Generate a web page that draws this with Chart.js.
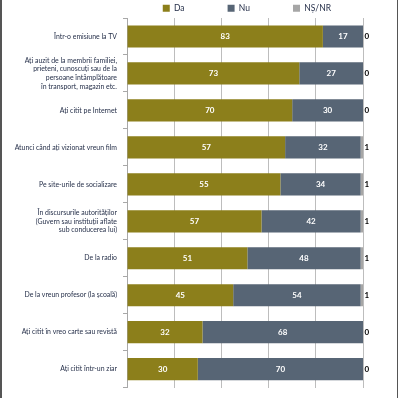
<!DOCTYPE html>
<html>
<head>
<meta charset="utf-8">
<script src="https://cdn.jsdelivr.net/npm/chart.js@4"></script>
<style>
html,body{margin:0;padding:0;background:#fff;}
#wrap{position:relative;width:398px;height:398px;}
#frame{position:absolute;left:0;top:0;width:398px;height:398px;box-sizing:border-box;border-left:2px solid #555;border-right:1px solid #555;pointer-events:none;}
canvas{position:absolute;left:0;top:0;}
</style>
</head>
<body>
<div id="wrap"><canvas id="c" width="398" height="398"></canvas><div id="frame"></div></div>
<script>
const categories = [
  ["Într-o emisiune la TV"],
  ["Ați auzit de la membrii familiei,","prieteni, cunoscuți sau de la","persoane întâmplătoare","în transport, magazin etc."],
  ["Ați citit pe Internet"],
  ["Atunci când ați vizionat vreun film"],
  ["Pe site-urile de socializare"],
  ["În discursurile autorităților","(Guvern sau instituții aflate","sub conducerea lui)"],
  ["De la radio"],
  ["De la vreun profesor (la școală)"],
  ["Ați citit în vreo carte sau revistă"],
  ["Ați citit într-un ziar"]
];
const seriesNames = ["Da", "Nu", "NȘ/NR"];
// bar lengths as drawn in the picture
const daValues = [83, 73, 70, 67, 65, 57, 51, 45, 32, 30];
const nuValues = [17, 27, 30, 32, 34, 42, 48, 54, 68, 70];
const nsValues = [0, 0, 0, 1, 1, 1, 1, 1, 0, 0];
// value labels as printed in the picture
const daLabels = ["83", "73", "70", "57", "55", "57", "51", "45", "32", "30"];
const nuLabels = ["17", "27", "30", "32", "34", "42", "48", "54", "68", "70"];
const nsLabels = ["0", "0", "0", "1", "1", "1", "1", "1", "0", "0"];
const xTicks = [0, 20, 40, 60, 80, 100];

const FONT = "Lato, 'Open Sans', sans-serif";
const TEXT = "#26304a";

const valueLabels = {
  id: 'valueLabels',
  afterDatasetsDraw(chart) {
    const ctx = chart.ctx;
    ctx.save();
    ctx.textBaseline = 'middle';
    chart.data.datasets.forEach((ds, di) => {
      const meta = chart.getDatasetMeta(di);
      meta.data.forEach((bar, i) => {
        const txt = ds.printed[i];
        ctx.font = "bold 8px " + FONT;
        if (di < 2) {
          ctx.fillStyle = '#ffffff';
          ctx.textAlign = 'center';
          ctx.fillText(txt, (bar.x + bar.base) / 2, bar.y);
        } else {
          ctx.fillStyle = '#000000';
          ctx.textAlign = 'left';
          ctx.fillText(txt, bar.x + 1.5, bar.y);
        }
      });
    });
    ctx.restore();
  }
};

new Chart(document.getElementById('c'), {
  type: 'bar',
  data: {
    labels: categories,
    datasets: [
      { label: seriesNames[0], data: daValues, printed: daLabels, backgroundColor: '#8c7f1b' },
      { label: seriesNames[1], data: nuValues, printed: nuLabels, backgroundColor: '#576575' },
      { label: seriesNames[2], data: nsValues, printed: nsLabels, backgroundColor: '#a6a6a6' }
    ]
  },
  options: {
    indexAxis: 'y',
    responsive: false,
    animation: false,
    devicePixelRatio: 1,
    layout: { padding: { top: -39, left: 0, right: 24, bottom: 8 } },
    datasets: { bar: { categoryPercentage: 1, barPercentage: 0.6 } },
    scales: {
      x: {
        stacked: true,
        min: 0, max: 100,
        afterBuildTicks(scale) { scale.ticks = xTicks.map(v => ({ value: v })); },
        ticks: { display: false },
        border: { display: false },
        grid: { color: '#bdbdbd', lineWidth: 1, drawTicks: false }
      },
      y: {
        stacked: true,
        afterFit(scale) { scale.width = 127; },
        border: { display: true, color: '#a8a8a8', width: 1 },
        grid: { offset: true, drawOnChartArea: false, drawTicks: true, tickLength: 4, color: '#a8a8a8' },
        ticks: { padding: 6, color: TEXT, font: { family: FONT, size: 6.9, lineHeight: 1.26 }, autoSkip: false }
      },
      yRight: {
        type: 'category',
        position: 'right',
        afterFit(scale) { scale.width = 11; },
        border: { display: false },
        grid: { display: false },
        ticks: { display: false }
      }
    },
    plugins: {
      legend: {
        position: 'top',
        fullSize: true,
        align: 'end',
        maxHeight: 57,
        labels: { boxWidth: 7, boxHeight: 7, padding: 43, color: TEXT, font: { family: FONT, size: 8.5 } }
      },
      tooltip: { enabled: false }
    }
  },
  plugins: [valueLabels]
});
</script>
</body>
</html>
